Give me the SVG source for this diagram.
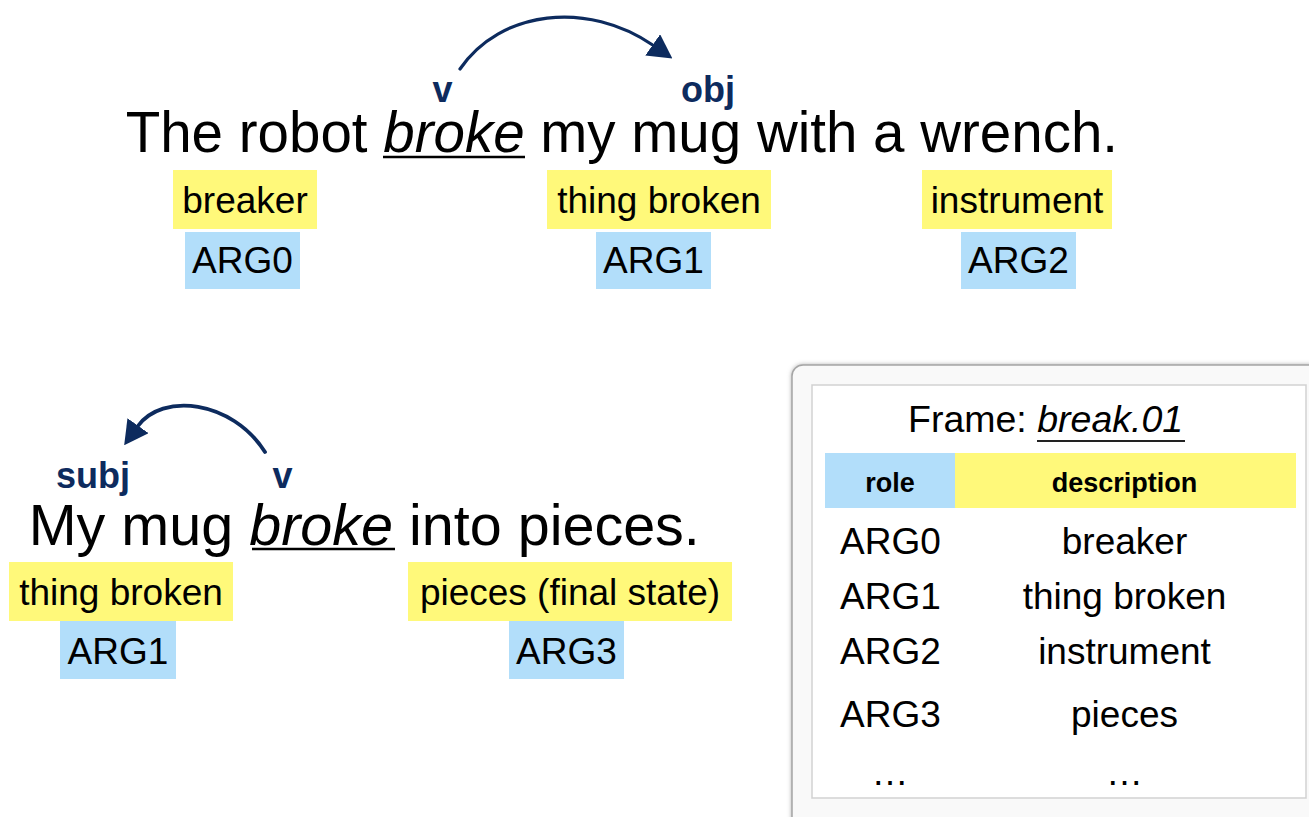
<svg xmlns="http://www.w3.org/2000/svg" width="1309" height="817" viewBox="0 0 1309 817">
<style>
  text { font-family: "Liberation Sans", Arial, Helvetica, sans-serif; fill: #000; }
  .sent { font-size: 56.5px; }
  .lbl { font-size: 37px; text-anchor: middle; }
  .dep { font-size: 36px; font-weight: bold; fill: #0d2b5e; }
  .hdr { font-size: 27px; font-weight: bold; text-anchor: middle; }
  .it { font-style: italic; }
  .yel { fill: #fff97a; }
  .blu { fill: #b2defa; }
  .ul { stroke: #000; stroke-width: 2.5; }
  .arc { fill: none; stroke: #0d2b5e; stroke-width: 3.2; stroke-linecap: round; }
</style>
<defs>
  <marker id="ah" viewBox="0 0 24 26" refX="1" refY="13" markerWidth="24" markerHeight="26" markerUnits="userSpaceOnUse" orient="auto">
    <path d="M0,0 L24,13 L0,26 Z" fill="#0d2b5e"/>
  </marker>
  <filter id="sh" x="-5%" y="-5%" width="110%" height="110%">
    <feGaussianBlur stdDeviation="2.5"/>
  </filter>
</defs>
<rect width="1309" height="817" fill="#fff"/>

<g id="sentence1">
  <text class="sent" x="125.7" y="152">The robot <tspan class="it">broke</tspan> my mug with a wrench.</text>
  <line class="ul" x1="383" y1="157" x2="525" y2="157"/>
</g>
<g id="label-v1"><text class="dep" x="442.5" y="102" text-anchor="middle">v</text></g>
<g id="label-obj"><text class="dep" x="681" y="102">obj</text></g>

<g id="role-breaker">
  <rect class="yel" x="173" y="170" width="144" height="59"/>
  <text class="lbl" x="245" y="213">breaker</text>
</g>
<g id="arg0-top">
  <rect class="blu" x="185" y="232" width="115" height="57"/>
  <text class="lbl" x="242.5" y="273">ARG0</text>
</g>
<g id="role-thing-broken-1">
  <rect class="yel" x="547" y="170" width="224" height="59"/>
  <text class="lbl" x="659" y="213">thing broken</text>
</g>
<g id="arg1-top">
  <rect class="blu" x="596" y="232" width="115" height="57"/>
  <text class="lbl" x="653.5" y="273">ARG1</text>
</g>
<g id="role-instrument">
  <rect class="yel" x="922" y="170" width="190" height="59"/>
  <text class="lbl" x="1017" y="213">instrument</text>
</g>
<g id="arg2-top">
  <rect class="blu" x="961" y="232" width="115" height="57"/>
  <text class="lbl" x="1018.5" y="273">ARG2</text>
</g>

<g id="sentence2">
  <text class="sent" style="font-size:57.5px" x="28.7" y="545">My mug <tspan class="it">broke</tspan> into pieces.</text>
  <line class="ul" x1="252" y1="549" x2="395" y2="549"/>
</g>
<g id="label-subj"><text class="dep" x="56" y="488">subj</text></g>
<g id="label-v2"><text class="dep" x="282.5" y="488" text-anchor="middle">v</text></g>

<g id="role-thing-broken-2">
  <rect class="yel" x="9" y="562" width="224" height="59"/>
  <text class="lbl" x="121" y="605">thing broken</text>
</g>
<g id="arg1-bottom">
  <rect class="blu" x="60" y="621" width="116" height="58"/>
  <text class="lbl" x="118" y="664">ARG1</text>
</g>
<g id="role-pieces">
  <rect class="yel" x="408" y="562" width="324" height="59"/>
  <text class="lbl" x="570" y="605">pieces (final state)</text>
</g>
<g id="arg3-bottom">
  <rect class="blu" x="509" y="621" width="115" height="58"/>
  <text class="lbl" x="566.5" y="664">ARG3</text>
</g>

<g id="connectors">
  <path class="arc" d="M460,69 C500,10 588,0 653.5,45.5" marker-end="url(#ah)"/>
  <path class="arc" style="stroke-width:3.8" d="M265,452 C232,400 162,392 137.5,426.5" marker-end="url(#ah)"/>
</g>

<g id="frame-table">
  <rect x="792" y="365" width="540" height="470" rx="11" fill="#9a9a9a" filter="url(#sh)"/>
  <rect x="792" y="365" width="540" height="470" rx="11" fill="#f9f9f9" stroke="#a5a5a5" stroke-width="1.5"/>
  <rect x="812" y="385" width="494" height="413" fill="#fff" stroke="#d2d2d2" stroke-width="1.5"/>
  <text x="908" y="432" style="font-size:37.5px">Frame: <tspan class="it">break.01</tspan></text>
  <line x1="1037" y1="441" x2="1185" y2="441" stroke="#222" stroke-width="2"/>
  <rect class="blu" x="825" y="453" width="130" height="55"/>
  <rect class="yel" x="955" y="453" width="341" height="55"/>
  <text class="hdr" x="890" y="492">role</text>
  <text class="hdr" x="1124.5" y="492">description</text>
  <g style="font-size:37px">
    <text x="840" y="554">ARG0</text>
    <text x="840" y="609">ARG1</text>
    <text x="840" y="664">ARG2</text>
    <text x="840" y="727">ARG3</text>
    <text x="890" y="785" text-anchor="middle">…</text>
    <text x="1124.5" y="554" text-anchor="middle">breaker</text>
    <text x="1124.5" y="609" text-anchor="middle">thing broken</text>
    <text x="1124.5" y="664" text-anchor="middle">instrument</text>
    <text x="1124.5" y="727" text-anchor="middle">pieces</text>
    <text x="1124.5" y="785" text-anchor="middle">…</text>
  </g>
</g>
</svg>
